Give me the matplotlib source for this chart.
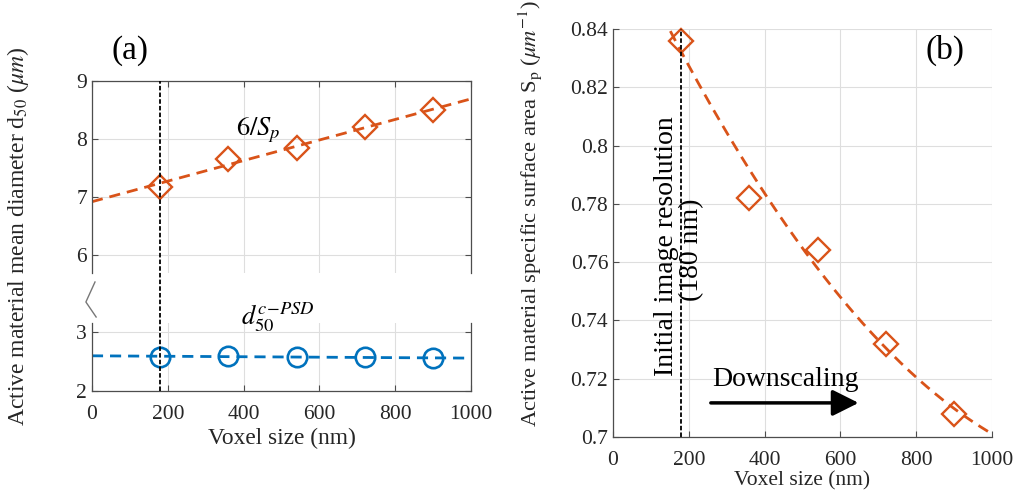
import numpy as np
import matplotlib.pyplot as plt
from matplotlib.lines import Line2D
import matplotlib.transforms as mtransforms

plt.rcParams['font.family'] = ['Liberation Serif', 'DejaVu Serif']
plt.rcParams['mathtext.fontset'] = 'stix'

# Voxel sizes (nm) and measured quantities
voxel = [180, 360, 540, 720, 900]
d50_sp = [7.18, 7.65, 7.85, 8.20, 8.50]      # 6/Sp mean diameter (um)
d50_psd = [2.58, 2.59, 2.57, 2.58, 2.55]     # continuous PSD d50 (um)
sp = [0.836, 0.782, 0.764, 0.732, 0.708]     # specific surface area (1/um)

x_ticks = [0, 200, 400, 600, 800, 1000]
init_res = 180

orange = '#D95319'
blue = '#0072BD'
axcol = '#262626'
spinecol = '#4d4d4d'
gridcol = '#dedede'
fs = 15.5

# trend lines
xf = np.linspace(0, 1000, 200)
fit_sp_d = np.polyval(np.polyfit(voxel, d50_sp, 1), xf)
fit_psd = np.polyval(np.polyfit(voxel, d50_psd, 1), xf)
fit_sp = np.polyval(np.polyfit(voxel, sp, 2), xf)


def style(ax, box=True):
    ax.tick_params(direction='in', length=4, width=0.8, colors=spinecol,
                   labelcolor=axcol, labelsize=fs, top=box, right=box)
    ax.tick_params(axis='x', pad=10)
    for s in ax.spines.values():
        s.set_color(spinecol)
        s.set_linewidth(0.9)
    if not box:
        ax.spines['top'].set_visible(False)
        ax.spines['right'].set_visible(False)
    ax.grid(True, color=gridcol, linewidth=0.8)
    ax.set_axisbelow(True)


fig = plt.figure(figsize=(10.15, 4.95), dpi=100)

# ---- (a) broken axis ----
left, width = 0.0906, 0.3734
ax_top = fig.add_axes([left, 0.4485, width, 0.3879])
ax_bot = fig.add_axes([left, 0.2101, width, 0.1374])

for ax in (ax_top, ax_bot):
    style(ax)
    ax.set_xlim(0, 1000)
    ax.set_xticks(x_ticks)

ax_top.set_ylim(5.69, 9)
ax_top.set_yticks([6, 7, 8, 9])
ax_top.spines['bottom'].set_visible(False)
ax_top.tick_params(bottom=False, labelbottom=False)

ax_bot.set_ylim(2, 3.15)
ax_bot.set_yticks([2, 3])
ax_bot.spines['top'].set_visible(False)
ax_bot.tick_params(top=False)

ax_top.plot(xf, fit_sp_d, '--', color=orange, lw=2, dashes=(4, 2.5))
ax_top.plot(voxel, d50_sp, 'D', color=orange, mfc='none', ms=12, mew=1.7)
ax_bot.plot(xf, fit_psd, '--', color=blue, lw=2, dashes=(4, 2.5))
ax_bot.plot(voxel, d50_psd, 'o', color=blue, mfc='none', ms=14, mew=1.9)

# dashed marker of the initial resolution, running across the break
tr = mtransforms.blended_transform_factory(ax_top.transData, fig.transFigure)
fig.add_artist(Line2D([init_res, init_res], [0.2101, 0.8364], transform=tr,
                      color='black', lw=1.3, ls=(0, (2.5, 1.2))))

# break symbol on the y axis
tb = mtransforms.blended_transform_factory(ax_top.transAxes, fig.transFigure)
fig.add_artist(Line2D([0.008, -0.016, 0.011], [1 - 282 / 495, 1 - 302 / 495, 1 - 317 / 495],
                      transform=tb, color='#777777', lw=1.0))

ax_top.text(100, 9.53, '(a)', fontsize=24, ha='center', va='center', clip_on=False)
ax_top.text(440, 8.15, r'$6/S_p$', fontsize=19, ha='center', va='center')
ax_bot.text(490, 3.24, r'$d_{50}^{c\!-\!PSD}$', fontsize=19, ha='center',
            va='center', clip_on=False)
ax_bot.set_xlabel('Voxel size (nm)', fontsize=16.8, color=axcol, labelpad=3)
fig.text(0.018, 1 - 236 / 495, r'Active material mean diameter d$_{50}$ ($\mu m$)',
         rotation=90, ha='center', va='center', fontsize=17, color=axcol)

# ---- (b) specific surface area ----
ax_b = fig.add_axes([0.604, 0.1172, 0.3733, 0.8242])
style(ax_b, box=False)
ax_b.set_xlim(0, 1000)
ax_b.set_xticks(x_ticks)
ax_b.set_ylim(0.7, 0.84)
ax_b.set_yticks([0.7, 0.72, 0.74, 0.76, 0.78, 0.8, 0.82, 0.84])
ax_b.set_yticklabels(['0.7', '0.72', '0.74', '0.76', '0.78', '0.8', '0.82', '0.84'])

ax_b.plot(xf, fit_sp, '--', color=orange, lw=2, dashes=(4, 2.5))
ax_b.plot(voxel, sp, 'D', color=orange, mfc='none', ms=12, mew=1.7, clip_on=False)
ax_b.plot([init_res, init_res], [0.7, 0.84], color='black', lw=1.3, ls=(0, (2.5, 1.2)))

ax_b.text(140, 0.7655, 'Initial image resolution', rotation=90,
          ha='center', va='center', fontsize=20)
ax_b.text(206, 0.7643, '(180 nm)', rotation=90,
          ha='center', va='center', fontsize=20)
ax_b.text(262, 0.7198, 'Downscaling', fontsize=20, ha='left', va='center')
ax_b.annotate('', xy=(648, 0.7117), xytext=(258, 0.7117),
              arrowprops=dict(arrowstyle='-|>,head_length=0.8,head_width=0.4',
                              mutation_scale=20, color='black', lw=2.5,
                              shrinkA=0, shrinkB=0))
ax_b.text(876, 0.8328, '(b)', fontsize=24, ha='center', va='center')
ax_b.set_xlabel('Voxel size (nm)', fontsize=fs, color=axcol, labelpad=1)
fig.text(530 / 1015, 1 - 214 / 495,
         r'Active material specific surface area S$_\mathrm{p}$ ($\mu m^{-1}$)',
         rotation=90, ha='center', va='center', fontsize=16.2, color=axcol)

fig.savefig('out.png', dpi=100)
